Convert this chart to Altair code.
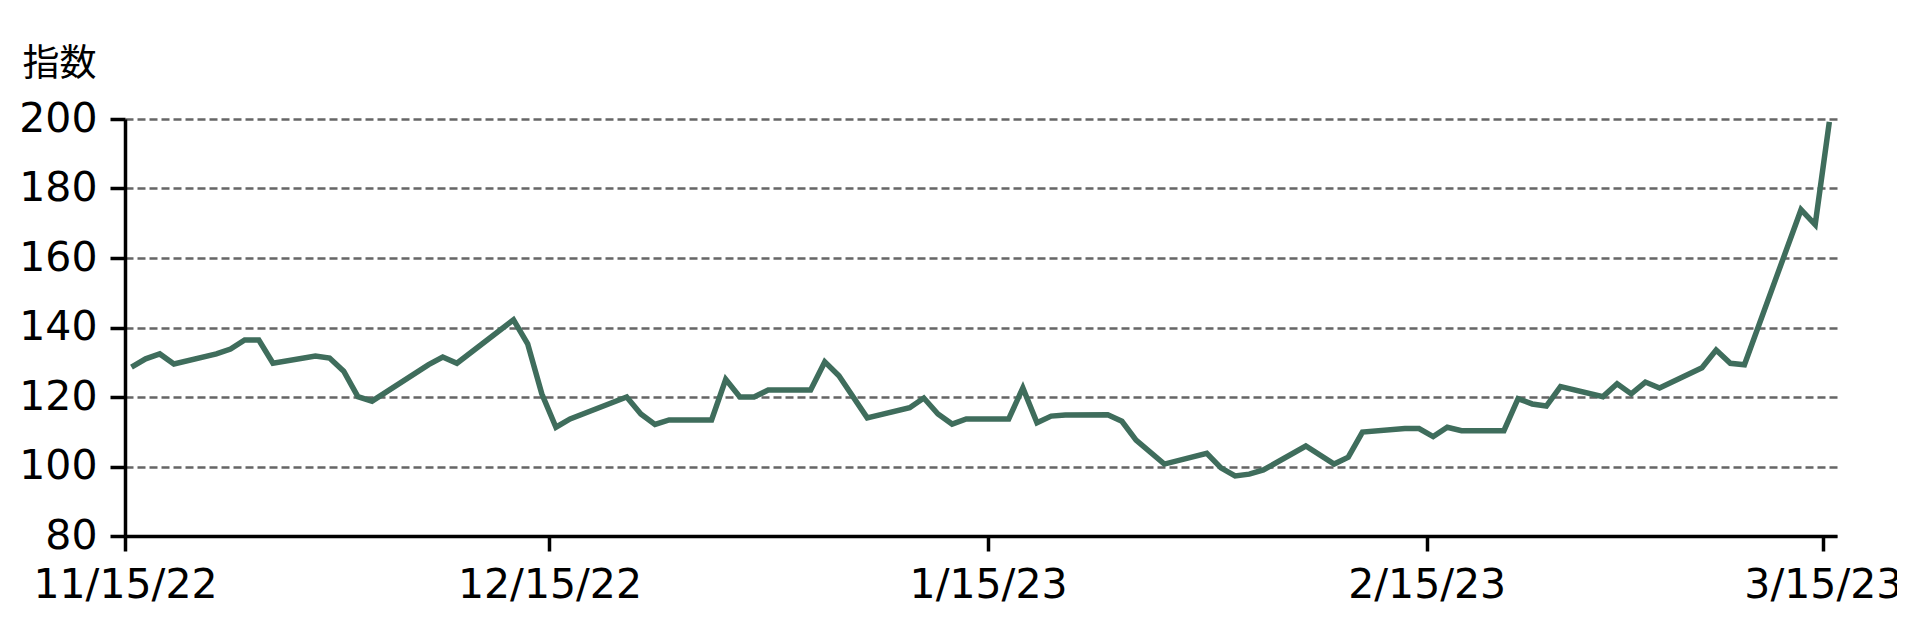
import altair as alt
import pandas as pd

dates = [
    "2022-11-15", "2022-11-16", "2022-11-17", "2022-11-18",
    "2022-11-21", "2022-11-22", "2022-11-23", "2022-11-24", "2022-11-25",
    "2022-11-28", "2022-11-29", "2022-11-30", "2022-12-01", "2022-12-02",
    "2022-12-06", "2022-12-07", "2022-12-08",
    "2022-12-12", "2022-12-13", "2022-12-14", "2022-12-15", "2022-12-16",
    "2022-12-20", "2022-12-21", "2022-12-22", "2022-12-23",
    "2022-12-26", "2022-12-27", "2022-12-28", "2022-12-29", "2022-12-30",
    "2023-01-02", "2023-01-03", "2023-01-04", "2023-01-06",
    "2023-01-09", "2023-01-10", "2023-01-11", "2023-01-12", "2023-01-13",
    "2023-01-16", "2023-01-17", "2023-01-18", "2023-01-19", "2023-01-20",
    "2023-01-23", "2023-01-24", "2023-01-25", "2023-01-27",
    "2023-01-30", "2023-01-31", "2023-02-01", "2023-02-02", "2023-02-03",
    "2023-02-06", "2023-02-08", "2023-02-09", "2023-02-10",
    "2023-02-13", "2023-02-14", "2023-02-15", "2023-02-16", "2023-02-17",
    "2023-02-20", "2023-02-21", "2023-02-22", "2023-02-23", "2023-02-24",
    "2023-02-27", "2023-02-28", "2023-03-01", "2023-03-02", "2023-03-03",
    "2023-03-06", "2023-03-07", "2023-03-08", "2023-03-09",
    "2023-03-13", "2023-03-14", "2023-03-15",
]

values = [
    128.6, 131.0, 132.4, 129.5,
    132.4, 133.8, 136.4, 136.4, 129.7,
    131.8, 131.2, 127.4, 120.1, 118.8,
    129.3, 131.5, 129.7,
    142.2, 135.3, 120.9, 111.3, 113.7,
    120.0, 115.1, 112.1, 113.4,
    113.4, 125.1, 120.0, 120.0, 122.0,
    122.0, 130.1, 126.1, 114.0,
    116.9, 119.7, 115.1, 112.2, 113.7,
    113.7, 122.6, 112.6, 114.5, 114.8,
    114.9, 113.0, 107.6, 100.7,
    103.8, 99.6, 97.3, 97.8, 99.0,
    105.9, 100.7, 102.7, 109.9,
    110.9, 110.9, 108.6, 111.3, 110.3,
    110.3, 119.5, 118.0, 117.4, 123.0,
    120.1, 123.8, 120.9, 124.3, 122.6,
    128.4, 133.5, 129.7, 129.3,
    173.9, 169.6, 199.2,
]

tick_dates = [(2022, 11, 15), (2022, 12, 15), (2023, 1, 15), (2023, 2, 15), (2023, 3, 15)]
y_ticks = [80, 100, 120, 140, 160, 180, 200]

df = pd.DataFrame({"date": [d + "T11:00:00Z" for d in dates], "value": values})

x_ticks = [alt.DateTime(year=y, month=m, date=d, utc=True) for (y, m, d) in tick_dates]

chart = (
    alt.Chart(df)
    .mark_line(color="#3f6d5c", strokeWidth=5.5, strokeJoin="miter")
    .encode(
        x=alt.X(
            "date:T",
            scale=alt.Scale(
                type="utc",
                domain=[
                    alt.DateTime(year=2022, month=11, date=15, utc=True),
                    alt.DateTime(year=2023, month=3, date=16, utc=True),
                ],
            ),
            axis=alt.Axis(
                values=x_ticks,
                format="%-m/%-d/%y",
                title=None,
                grid=False,
                labelPadding=14,
                labelOverlap=False,
                labelFlush=False,
                labelLimit=500,
            ),
        ),
        y=alt.Y(
            "value:Q",
            scale=alt.Scale(domain=[80, 200], nice=False, zero=False),
            axis=alt.Axis(
                values=y_ticks,
                title="指数",
                titleAngle=0,
                titleAlign="left",
                titleBaseline="alphabetic",
                titleX=-103,
                titleY=-44,
                titleFont="Noto Sans CJK JP",
                titleFontSize=37,
                titleFontWeight="normal",
                titleColor="#000000",
                grid=True,
                gridDash=[8, 4],
                gridColor="#666666",
                gridWidth=2.5,
                labelPadding=13,
            ),
        ),
    )
    .properties(
        width=1712,
        height=417,
        autosize=alt.AutoSizeParams(type="none"),
        padding={"left": 117, "top": 111, "right": 60, "bottom": 83},
    )
    .configure_axis(
        domainColor="#000000",
        domainWidth=3.5,
        tickColor="#000000",
        tickWidth=3.5,
        tickSize=15,
        labelFont="DejaVu Sans",
        labelFontSize=41,
        labelColor="#000000",
    )
    .configure_view(stroke=None)
)

chart.save("out.html", embed_options={"renderer": "svg", "actions": False})
